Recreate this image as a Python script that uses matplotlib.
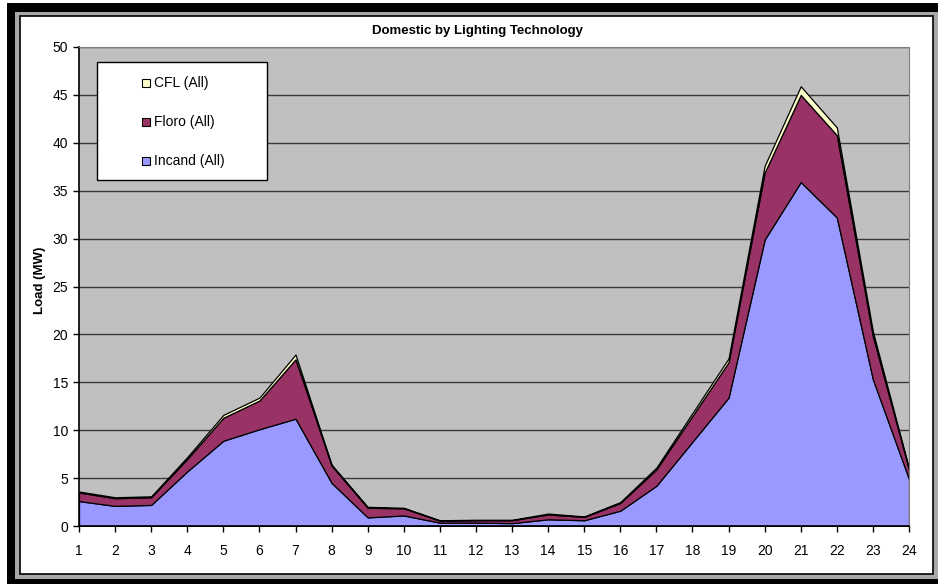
import matplotlib
matplotlib.use("Agg")
import matplotlib.pyplot as plt
from matplotlib.patches import Rectangle

plt.rcParams["font.family"] = ["Liberation Sans", "DejaVu Sans"]

# hourly load (MW) per lighting technology
hours = list(range(1, 25))
incand = [2.6, 2.1, 2.2, 5.7, 8.9, 10.1, 11.2, 4.5, 0.9, 1.1, 0.35, 0.35,
          0.3, 0.7, 0.6, 1.6, 4.2, 8.8, 13.4, 29.9, 35.9, 32.2, 15.3, 4.9]
floro = [0.9, 0.8, 0.8, 1.3, 2.4, 3.0, 6.2, 1.8, 1.0, 0.75, 0.2, 0.25,
         0.3, 0.5, 0.35, 0.8, 1.7, 2.7, 3.7, 7.0, 9.1, 8.6, 4.5, 1.0]
cfl = [0.1, 0.1, 0.1, 0.2, 0.3, 0.3, 0.5, 0.1, 0.1, 0.05, 0.05, 0.05,
       0.05, 0.1, 0.05, 0.1, 0.2, 0.3, 0.4, 0.7, 0.9, 0.8, 0.5, 0.1]
labels = ["Incand (All)", "Floro (All)", "CFL (All)"]
colors = ["#9999FF", "#993366", "#FFFFCC"]

W, H = 938, 584
fig = plt.figure(figsize=(W / 100, H / 100), dpi=100)
fig.patch.set_facecolor("white")


def px_rect(x0, y0, x1, y1, **kw):
    # rectangle in pixel coords (top-left origin) -> figure fraction
    r = Rectangle((x0 / W, 1 - y1 / H), (x1 - x0) / W, (y1 - y0) / H,
                  transform=fig.transFigure, zorder=-5, **kw)
    fig.patches.append(r)


# Excel-style chart frame
px_rect(7, 3, 940, 590, facecolor="black", edgecolor="none")
px_rect(15, 12, 940, 579, facecolor="#A8A8A8", edgecolor="none")
px_rect(20, 16, 933, 574, facecolor="white", edgecolor="black", linewidth=1.2)

ax = fig.add_axes([79 / W, (H - 526) / H, 830 / W, 479 / H])
ax.set_facecolor("#C0C0C0")

ax.stackplot(hours, incand, floro, cfl, colors=colors,
             edgecolor="black", linewidth=0.9, zorder=3)

ax.set_xlim(1, 24)
ax.set_ylim(0, 50)
ax.set_xticks(hours)
ax.set_yticks(range(0, 51, 5))
ax.yaxis.grid(True, color="#3a3a3a", linewidth=1.0)
ax.set_axisbelow(True)
ax.tick_params(axis="both", direction="out", length=4, width=1,
               labelsize=10, colors="black", pad=4)
ax.tick_params(axis="x", pad=9)

for side in ["top", "right"]:
    ax.spines[side].set_color("#808080")
for side in ["left", "bottom"]:
    ax.spines[side].set_color("black")
    ax.spines[side].set_linewidth(1.2)
for sp in ax.spines.values():
    sp.set_zorder(4)

fig.text(478 / W, 1 - 31 / H, "Domestic by Lighting Technology",
         ha="center", va="center", fontsize=9.5, fontweight="bold")
fig.text(40 / W, 1 - 280 / H, "Load (MW)", rotation=90,
         ha="center", va="center", fontsize=9.5, fontweight="bold")

# legend box drawn by hand to match the original layout
lx0, lx1 = (97 - 79) / 830, (267 - 79) / 830
ly0, ly1 = (526 - 180) / 479, (526 - 62) / 479
ax.add_patch(Rectangle((lx0, ly0), lx1 - lx0, ly1 - ly0, transform=ax.transAxes,
                       facecolor="white", edgecolor="black", linewidth=1.0,
                       zorder=6, clip_on=False))
rows = [83, 122, 161]
for lab, col, ry in zip(labels[::-1], colors[::-1], rows):
    yc = (526 - ry) / 479
    ax.add_patch(Rectangle(((142 - 79) / 830, yc - 4 / 479), 8 / 830, 8 / 479,
                           transform=ax.transAxes, facecolor=col,
                           edgecolor="black", linewidth=0.8, zorder=7,
                           clip_on=False))
    ax.text((154 - 79) / 830, yc, lab, transform=ax.transAxes, ha="left",
            va="center", fontsize=10, zorder=8)

fig.savefig("out.png", dpi=100)
